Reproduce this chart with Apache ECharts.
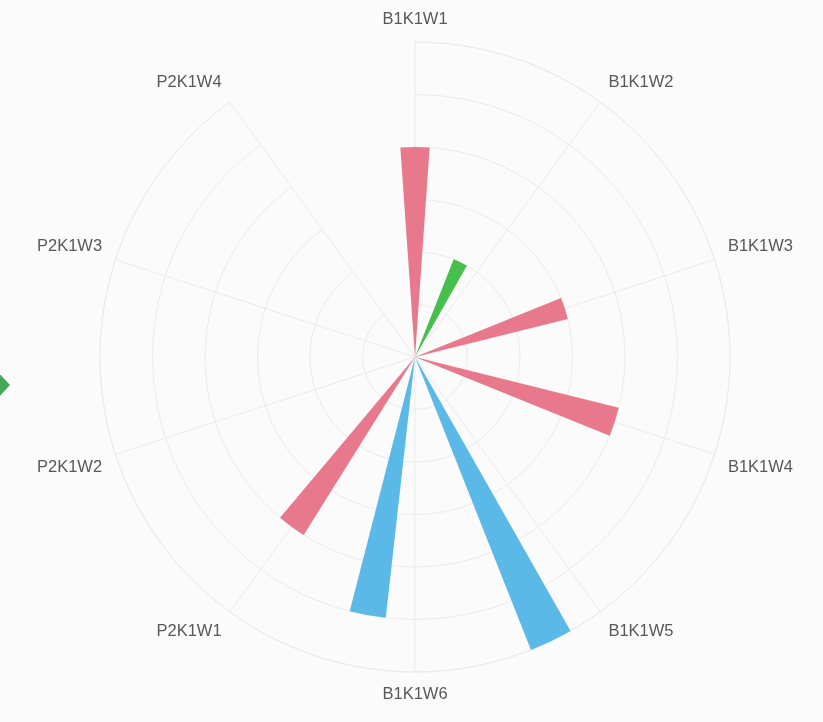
<!DOCTYPE html>
<html>
<head>
<meta charset="utf-8">
<script src="https://cdn.jsdelivr.net/npm/echarts@6/dist/echarts.min.js"></script>
<style>
html,body{margin:0;padding:0;background:#fbfbfb;}
#chart{width:823px;height:722px;}
</style>
</head>
<body>
<div id="chart"></div>
<script>
const categories = ['B1K1W1','B1K1W2','B1K1W3','B1K1W4','B1K1W5','B1K1W6','P2K1W1','P2K1W2','P2K1W3','P2K1W4'];
const greenValues = [0,2,0,0,0,0,0,0,0,0];
const redValues   = [4,0,3,4,0,0,4,0,0,0];
const blueValues  = [0,0,0,0,6,5,0,0,0,0];
const radiusTicks = [0,1,2,3,4,5,6];

const chart = echarts.init(document.getElementById('chart'), null, {renderer:'canvas'});
const gridColor = '#ebebeb';
chart.setOption({
  backgroundColor: '#fbfbfb',
  animation: false,
  polar: { center: [415, 357], radius: 315 },
  angleAxis: {
    type: 'category',
    data: categories,
    boundaryGap: false,
    startAngle: 90,
    clockwise: true,
    axisLine: { show: true, lineStyle: { color: gridColor } },
    axisTick: { show: false },
    splitLine: { show: true, lineStyle: { color: gridColor } },
    axisLabel: { color: '#585858', fontSize: 16.5, margin: 14, fontFamily: 'Liberation Sans' }
  },
  radiusAxis: {
    type: 'value',
    min: radiusTicks[0],
    max: radiusTicks[radiusTicks.length - 1],
    interval: 1,
    axisLine: { show: false },
    axisTick: { show: false },
    axisLabel: { show: false },
    splitLine: { show: true, lineStyle: { color: gridColor } }
  },
  series: [
    { type: 'bar', coordinateSystem: 'polar', name: 'G', data: greenValues, itemStyle: { color: '#46bf4c' } },
    { type: 'bar', coordinateSystem: 'polar', name: 'R', data: redValues, itemStyle: { color: '#e8788c' } },
    { type: 'bar', coordinateSystem: 'polar', name: 'B', data: blueValues, itemStyle: { color: '#5ab9e6' } }
  ],
  graphic: [
    { type: 'polygon', shape: { points: [[-2,372],[10,385],[-2,398],[-14,385]] }, style: { fill: '#45a95a' } }
  ]
});
</script>
</body>
</html>
